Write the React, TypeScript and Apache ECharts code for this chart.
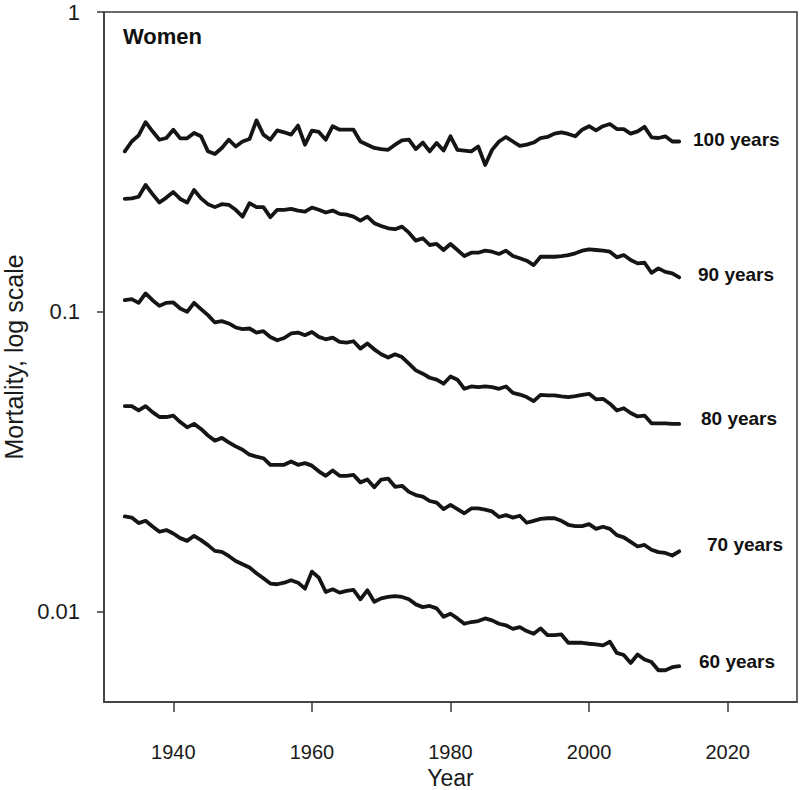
import React, { useEffect, useRef } from "react";
import * as echarts from "echarts";

const START_YEAR = 1933;

const women100 = [
  0.343, 0.370, 0.388, 0.429, 0.400, 0.375, 0.380, 0.405, 0.379, 0.379,
  0.395, 0.385, 0.343, 0.336, 0.352, 0.375, 0.356, 0.370, 0.377, 0.435,
  0.390, 0.375, 0.403, 0.397, 0.390, 0.418, 0.361, 0.402, 0.398, 0.375,
  0.416, 0.405, 0.405, 0.405, 0.370, 0.361, 0.352, 0.349, 0.347, 0.361,
  0.373, 0.375, 0.349, 0.367, 0.343, 0.366, 0.345, 0.385, 0.347, 0.345,
  0.343, 0.356, 0.309, 0.347, 0.370, 0.383, 0.370, 0.358, 0.361, 0.367,
  0.380, 0.383, 0.393, 0.397, 0.392, 0.385, 0.405, 0.416, 0.403, 0.416,
  0.423, 0.407, 0.407, 0.393, 0.400, 0.414, 0.382, 0.380, 0.385, 0.370,
  0.370,
];

const women90 = [
  0.238, 0.239, 0.242, 0.265, 0.247, 0.2315, 0.2405, 0.251, 0.238, 0.2315,
  0.255, 0.239, 0.2287, 0.2235, 0.2287, 0.2275, 0.219, 0.2078, 0.2304, 0.2235,
  0.2235, 0.2069, 0.219, 0.219, 0.2206, 0.2177, 0.216, 0.2228, 0.219, 0.2144,
  0.2177, 0.2122, 0.211, 0.2078, 0.2015, 0.2078, 0.1975, 0.1934, 0.190, 0.1886,
  0.1924, 0.1837, 0.1728, 0.176, 0.1671, 0.1684, 0.1608, 0.1684, 0.1608, 0.1535,
  0.1575, 0.1575, 0.160, 0.1587, 0.156, 0.160, 0.1535, 0.1509, 0.1481, 0.1432,
  0.1527, 0.1527, 0.1527, 0.1535, 0.1547, 0.1568, 0.160, 0.1617, 0.1608, 0.160,
  0.1587, 0.152, 0.1547, 0.1489, 0.1451, 0.1458, 0.135, 0.1397, 0.136, 0.1344,
  0.1303,
];

const women80 = [
  0.1094, 0.1103, 0.1072, 0.1152, 0.1094, 0.1047, 0.1072, 0.1075, 0.1026, 0.100,
  0.1072, 0.1021, 0.0975, 0.0922, 0.0931, 0.0915, 0.0887, 0.0876, 0.088, 0.0853,
  0.0862, 0.0825, 0.0804, 0.0818, 0.0847, 0.0853, 0.0836, 0.0857, 0.0825, 0.081,
  0.0821, 0.0794, 0.079, 0.0798, 0.0754, 0.0784, 0.075, 0.0722, 0.0704, 0.0722,
  0.0707, 0.0672, 0.0638, 0.0622, 0.0603, 0.0594, 0.0576, 0.0609, 0.0594, 0.0554,
  0.0564, 0.0561, 0.0564, 0.0561, 0.0554, 0.0564, 0.0537, 0.053, 0.052, 0.0504,
  0.0529, 0.0527, 0.0527, 0.0523, 0.052, 0.0524, 0.0529, 0.0533, 0.0511, 0.0513,
  0.0494, 0.0469, 0.0477, 0.046, 0.0448, 0.0451, 0.0425, 0.0425, 0.0425, 0.0423,
  0.0423,
];

const women70 = [
  0.0485, 0.0485, 0.0469, 0.0485, 0.0463, 0.0446, 0.0446, 0.0451, 0.0429, 0.0412,
  0.0423, 0.0407, 0.0387, 0.0372, 0.038, 0.0367, 0.0356, 0.0347, 0.0334, 0.0329,
  0.0325, 0.0309, 0.0309, 0.0309, 0.0317, 0.0309, 0.0313, 0.0307, 0.0294, 0.0284,
  0.0296, 0.0284, 0.0284, 0.0286, 0.027, 0.0276, 0.026, 0.0276, 0.0278, 0.0261,
  0.0263, 0.0251, 0.0245, 0.0242, 0.0234, 0.0231, 0.022, 0.0227, 0.022, 0.0213,
  0.0221, 0.0221, 0.0219, 0.0216, 0.0207, 0.021, 0.0206, 0.0209, 0.0198, 0.0201,
  0.0204, 0.0205, 0.0205, 0.0201, 0.0195, 0.0193, 0.0193, 0.0196, 0.0189, 0.0192,
  0.0189, 0.018, 0.0177, 0.0171, 0.0165, 0.0167, 0.0161, 0.0158, 0.0157, 0.0154,
  0.0159,
];

const women60 = [
  0.02078, 0.0206, 0.01975, 0.0201, 0.01924, 0.01848, 0.01872, 0.01824, 0.0176, 0.01723,
  0.01791, 0.01733, 0.01668, 0.01596, 0.01584, 0.01535, 0.01477, 0.0144, 0.01404, 0.01344,
  0.01293, 0.01241, 0.01235, 0.0125, 0.01274, 0.0125, 0.01194, 0.01361, 0.01299, 0.01164,
  0.01188, 0.01158, 0.01173, 0.01182, 0.011, 0.01179, 0.0108, 0.01108, 0.0112, 0.01128,
  0.0112, 0.011, 0.01058, 0.01036, 0.01045, 0.01026, 0.00962, 0.00985, 0.0095, 0.00912,
  0.00924, 0.00931, 0.0095, 0.00936, 0.00912, 0.00901, 0.00877, 0.00889, 0.00862, 0.00844,
  0.0088, 0.00836, 0.00836, 0.0084, 0.00788, 0.00788, 0.00788, 0.00782, 0.00778, 0.00772,
  0.00794, 0.00729, 0.00717, 0.00675, 0.0072, 0.00693, 0.0068, 0.00638, 0.00638, 0.00653,
  0.00658,
];

const xTickValues = [1940, 1960, 1980, 2000, 2020];
const yTickValues = [0.01, 0.1, 1];

const seriesList = [
  { name: "100 years", values: women100 },
  { name: "90 years", values: women90 },
  { name: "80 years", values: women80 },
  { name: "70 years", values: women70 },
  { name: "60 years", values: women60 },
];

const FONT = "'Liberation Sans', Arial, Helvetica, sans-serif";
const AXIS_COLOR = "#3a3a3a";
const TEXT_COLOR = "#1a1a1a";

export default function App() {
  const ref = useRef<HTMLDivElement>(null);

  useEffect(() => {
    if (!ref.current) return;
    const chart = echarts.init(ref.current, null, { renderer: "svg" });

    const fmtY = (v: number) => {
      if (Math.abs(v - 1) < 1e-9) return "1";
      if (Math.abs(v - 0.1) < 1e-9) return "0.1";
      if (Math.abs(v - 0.01) < 1e-9) return "0.01";
      return "";
    };

    const option = {
      animation: false,
      backgroundColor: "#ffffff",
      grid: {
        left: 104,
        right: 3,
        top: 12,
        bottom: 88,
        show: true,
        borderColor: AXIS_COLOR,
        borderWidth: 1.5,
        backgroundColor: "transparent",
        containLabel: false,
        outerBoundsMode: "none",
      },
      xAxis: {
        type: "value",
        min: 1930,
        max: 2030,
        name: "Year",
        nameLocation: "middle",
        nameGap: 62,
        nameTextStyle: { fontSize: 23, color: TEXT_COLOR, fontFamily: FONT },
        axisLine: { show: true, lineStyle: { color: AXIS_COLOR, width: 1.5 } },
        axisTick: {
          show: true,
          length: 10,
          customValues: xTickValues,
          lineStyle: { color: AXIS_COLOR, width: 1.5 },
        },
        axisLabel: {
          customValues: xTickValues,
          margin: 40,
          fontSize: 20,
          color: TEXT_COLOR,
          fontFamily: FONT,
          formatter: (v: number) => String(v),
        },
        splitLine: { show: false },
      },
      yAxis: {
        type: "log",
        logBase: 10,
        min: 0.005,
        max: 1,
        name: "Mortality, log scale",
        nameLocation: "middle",
        nameGap: 73,
        nameTextStyle: { fontSize: 25, color: TEXT_COLOR, fontFamily: FONT },
        axisLine: { show: true, lineStyle: { color: AXIS_COLOR, width: 1.5 } },
        axisTick: {
          show: true,
          length: 7,
          customValues: yTickValues,
          lineStyle: { color: AXIS_COLOR, width: 1.5 },
        },
        minorTick: { show: false },
        axisLabel: {
          customValues: yTickValues,
          margin: 24,
          fontSize: 22,
          color: TEXT_COLOR,
          fontFamily: FONT,
          formatter: fmtY,
        },
        splitLine: { show: false },
      },
      graphic: [
        {
          type: "text",
          left: 123,
          top: 25,
          style: {
            text: "Women",
            font: `bold 22px ${FONT}`,
            fill: "#111",
          },
        },
        ...[
          { t: "100 years", x: 693, y: 139 },
          { t: "90 years", x: 698, y: 274 },
          { t: "80 years", x: 701, y: 418 },
          { t: "70 years", x: 707, y: 544 },
          { t: "60 years", x: 699, y: 661 },
        ].map((l) => ({
          type: "text",
          x: l.x,
          y: l.y,
          style: {
            text: l.t,
            font: `bold 19px ${FONT}`,
            fill: "#111",
            textAlign: "left",
            textVerticalAlign: "middle",
          },
        })),
      ],
      series: seriesList.map((s) => ({
        name: s.name,
        type: "line",
        showSymbol: false,
        symbol: "none",
        data: s.values.map((v, i) => [START_YEAR + i, v]),
        lineStyle: { color: "#151515", width: 3.8, join: "round", cap: "round" },
        emphasis: { disabled: true },
      })),
    };

    chart.setOption(option as any);
    return () => chart.dispose();
  }, []);

  return (
    <div
      ref={ref}
      style={{ position: "fixed", left: 0, top: 0, width: 800, height: 790 }}
    />
  );
}
